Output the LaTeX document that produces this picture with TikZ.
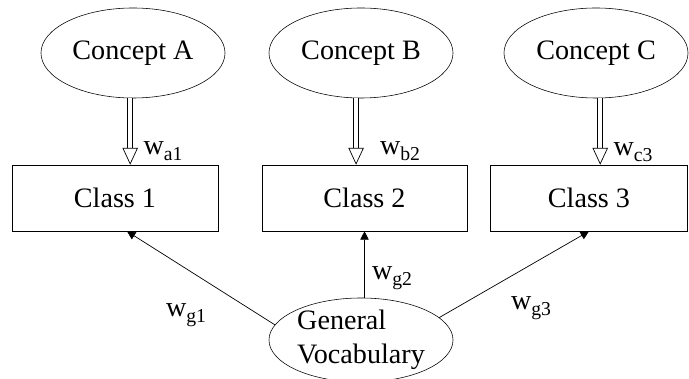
\documentclass[tikz,border=0pt]{standalone}
\usepackage{fontspec}
\setmainfont{Liberation Serif}
\usetikzlibrary{shapes.geometric,arrows.meta,calc}

\tikzset{
  concept/.style={draw, ellipse, minimum width=4.6cm, minimum height=2.25cm, inner sep=0pt},
  classbox/.style={draw, rectangle, minimum height=1.65cm, inner sep=0pt},
  dblarrow/.style={double, double distance=3pt, line width=0.5pt, -{Triangle[open, length=12pt, width=11pt]}},
  weight/.style={-{Triangle[length=6pt, width=6pt]}, line width=0.5pt}
}
\newcommand{\wsub}[1]{w\raisebox{-4.5pt}{\fontsize{14}{14}\selectfont #1}}

\begin{document}
\begin{tikzpicture}[x=0.025cm, y=-0.025cm, font=\fontsize{20}{24}\selectfont]
            \useasboundingbox (0,0) rectangle (689,379);

            \node[concept] (conA) at (133,53) {Concept A};
            \node[concept] (conB) at (361,53) {Concept B};
            \node[concept] (conC) at (596,53) {Concept C};

            \node[classbox, minimum width=5.15cm] (cls1) at (115,198) {Class 1};
            \node[classbox, minimum width=5.12cm] (cls2) at (364.5,198) {Class 2};
            \node[classbox, minimum width=4.92cm] (cls3) at (589,198) {Class 3};

            \node[concept, minimum height=2.1cm, align=left] (gv) at (361,340) {General\\Vocabulary};

            \draw[dblarrow] ([xshift=-2pt]conA.south) -- ([xshift=-2pt]conA.south |- cls1.north);
            \draw[dblarrow] ([xshift=-3.5pt]conB.south) -- ([xshift=-3.5pt]conB.south |- cls2.north);
            \draw[dblarrow] ([xshift=3pt]conC.south) -- ([xshift=3pt]conC.south |- cls3.north);

            \node (wa1) at (163,151) {\wsub{a1}};
            \node (wb2) at (400,151) {\wsub{b2}};
            \node (wc3) at (633,152) {\wsub{c3}};

            \draw[weight] (gv.170) -- ($(cls1.south)+(12,0)$);
            \draw[weight] (gv.north -| cls2.south) -- (cls2.south);
            \draw[weight] (gv.16) -- (cls3.south);

            \node (wg1) at (186,315) {\wsub{g1}};
            \node (wg2) at (392,278) {\wsub{g2}};
            \node (wg3) at (531,308) {\wsub{g3}};
          \end{tikzpicture}
\end{document}
